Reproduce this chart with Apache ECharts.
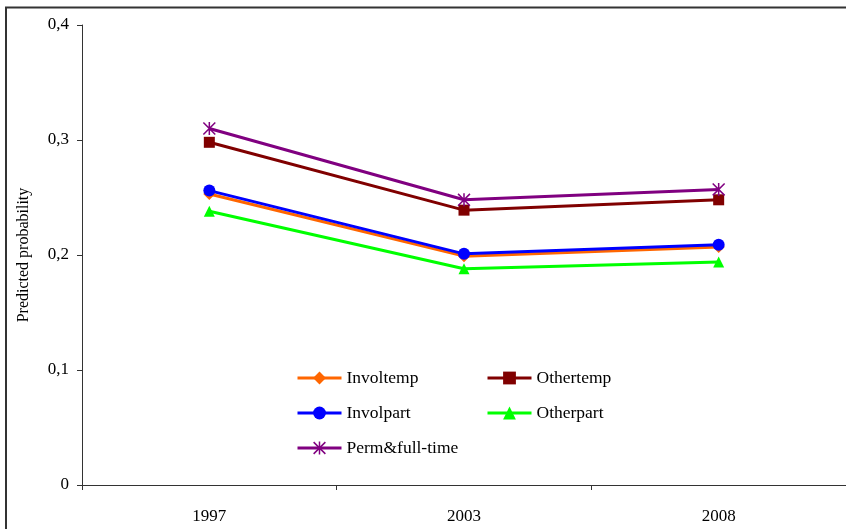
<!DOCTYPE html>
<html>
<head>
<meta charset="utf-8">
<script src="https://cdn.jsdelivr.net/npm/echarts@6/dist/echarts.min.js"></script>
<style>
html,body{margin:0;padding:0;background:#fff;}
#main{width:846px;height:529px;}
</style>
</head>
<body>
<div id="main"></div>
<script>
const years = ['1997', '2003', '2008'];
const involtemp = [0.253, 0.199, 0.207];
const othertemp = [0.298, 0.239, 0.248];
const involpart = [0.256, 0.201, 0.209];
const otherpart = [0.238, 0.188, 0.194];
const permFull = [0.310, 0.248, 0.257];
const yTicks = [0, 0.1, 0.2, 0.3, 0.4];

const FONT = 'Liberation Serif';
const asterisk = 'path://M5.3 0L6.7 0L6.7 12L5.3 12Z M0 1L1 0L12 11L11 12Z M11 0L12 1L1 12L0 11Z';

function mk(name, data, color, symbol, size) {
  return {
    name: name, type: 'line', data: data,
    symbol: symbol, symbolSize: size, showSymbol: true,
    lineStyle: {color: color, width: 3},
    itemStyle: {color: color},
    emphasis: {disabled: true},
    animation: false
  };
}

const legendCommon = {
  orient: 'vertical', top: 369, padding: 0,
  itemWidth: 44, itemHeight: 16, itemGap: 17,
  lineStyle: {width: 3},
  textStyle: {fontFamily: FONT, fontSize: 17.5, color: '#000'}
};

const chart = echarts.init(document.getElementById('main'));
chart.setOption({
  backgroundColor: '#fff',
  animation: false,
  textStyle: {fontFamily: FONT},
  grid: {left: 82, right: 0, top: 25, bottom: 44, containLabel: false},
  xAxis: {
    type: 'category', data: years, boundaryGap: true,
    axisLine: {lineStyle: {color: '#333', width: 1}},
    axisTick: {show: true, length: 5, lineStyle: {color: '#333'}},
    axisLabel: {fontFamily: FONT, fontSize: 17, color: '#000', margin: 23},
    splitLine: {show: false}
  },
  yAxis: {
    type: 'value', min: 0, max: 0.4, interval: 0.1,
    name: 'Predicted probability', nameLocation: 'middle', nameRotate: 90, nameGap: 50,
    nameTextStyle: {fontFamily: FONT, fontSize: 16, color: '#000'},
    axisLine: {show: true, lineStyle: {color: '#333', width: 1}},
    axisTick: {show: true, length: 5, lineStyle: {color: '#333'}},
    axisLabel: {fontFamily: FONT, fontSize: 17, color: '#000', margin: 13,
      formatter: v => String(Math.round(v * 10) / 10).replace('.', ',')},
    splitLine: {show: false}
  },
  legend: [
    Object.assign({data: ['Involtemp', 'Involpart', 'Perm&full-time'], left: 296}, legendCommon),
    Object.assign({data: ['Othertemp', 'Otherpart'], left: 486}, legendCommon)
  ],
  graphic: [{
    type: 'polyline', silent: true,
    shape: {points: [[6, 529], [6, 7.5], [846, 7.5]]},
    style: {stroke: '#333', lineWidth: 2, fill: null}
  }],
  series: [
    mk('Involtemp', involtemp, '#FF6600', 'diamond', 12),
    mk('Othertemp', othertemp, '#800000', 'rect', 11),
    mk('Involpart', involpart, '#0000FF', 'circle', 12),
    mk('Otherpart', otherpart, '#00FF00', 'triangle', 11),
    mk('Perm&full-time', permFull, '#800080', asterisk, 13)
  ]
});
</script>
</body>
</html>
